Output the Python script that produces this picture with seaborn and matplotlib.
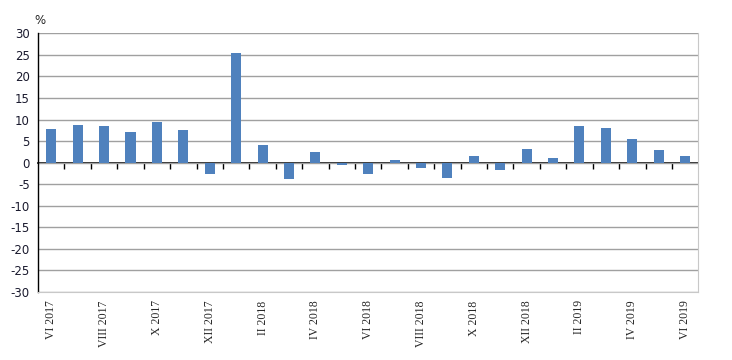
import numpy as np
import pandas as pd
import matplotlib
matplotlib.use("Agg")
import matplotlib.pyplot as plt
import seaborn as sns

# Données (variation en %)
months = ["VI 2017", "VII 2017", "VIII 2017", "IX 2017", "X 2017", "XI 2017", "XII 2017",
          "I 2018", "II 2018", "III 2018", "IV 2018", "V 2018", "VI 2018", "VII 2018",
          "VIII 2018", "IX 2018", "X 2018", "XI 2018", "XII 2018",
          "I 2019", "II 2019", "III 2019", "IV 2019", "V 2019", "VI 2019"]
values = [7.7, 8.7, 8.4, 7.0, 9.4, 7.5, -2.6, 25.4, 4.0, -3.7, 2.4, -0.6, -2.7,
          0.5, -1.2, -3.6, 1.5, -1.7, 3.1, 1.0, 8.4, 8.0, 5.4, 2.9, 1.5]
yticks = list(range(-30, 31, 5))

df = pd.DataFrame({"Mois": months, "Valeur": values})

sns.set_style("white")
plt.rcParams["font.family"] = ["DejaVu Sans"]

fig = plt.figure(figsize=(7.32, 3.6), dpi=100)
ax = fig.add_axes([0.052, 0.189, 0.902, 0.7185])

sns.barplot(data=df, x="Mois", y="Valeur", color="#4f81bd", saturation=1,
            width=0.38, ax=ax, zorder=3, linewidth=0, edgecolor="none")

ax.set_ylim(-30, 30)
ax.set_xlim(-0.5, len(months) - 0.5)
ax.set_yticks(yticks)
ax.set_yticklabels([str(v) for v in yticks], fontsize=8.5, color="#1a1a2e")
ax.yaxis.grid(True, color="#a0a0a0", linewidth=1)
ax.set_axisbelow(True)
ax.tick_params(axis="y", direction="out", length=4, width=1, color="black", pad=2)

# étiquettes un mois sur deux
ax.set_xticks(range(0, len(months), 2))
ax.set_xticklabels(months[::2], rotation=90, fontsize=8.5, family="Liberation Serif", va="top")
ax.tick_params(axis="x", length=0, pad=6)
ax.set_xlabel("")
ax.set_ylabel("")

ax.spines["left"].set_color("black")
ax.spines["left"].set_linewidth(1)
ax.spines["top"].set_visible(False)
ax.spines["right"].set_color("#c8c8c8")
ax.spines["bottom"].set_color("#c8c8c8")

# axe du zéro avec graduations entre les catégories
sec = ax.secondary_xaxis(0.5)
sec.set_alignment("bottom")
sec.set_xticks(np.arange(0.5, len(months) - 0.5, 1))
sec.tick_params(axis="x", direction="out", length=4, width=1, color="black", labelbottom=False)
sec.spines["bottom"].set_color("black")
sec.spines["bottom"].set_linewidth(1.2)

fig.text(0.047, 0.925, "%", fontsize=8.5, ha="left", va="bottom")

fig.savefig("out.png", dpi=100)
